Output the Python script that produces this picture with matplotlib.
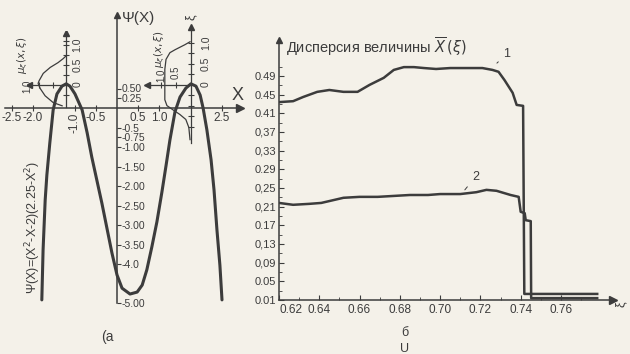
import numpy as np
import matplotlib
matplotlib.use("Agg")
import matplotlib.pyplot as plt

plt.rcParams['font.family'] = ['Liberation Sans', 'DejaVu Sans']
plt.rcParams['mathtext.fontset'] = 'dejavusans'

paper = '#f4f1e9'
ink = '#3c3c3c'

### (а) кривая Psi(X)
psi_x = [-1.79, -1.76, -1.71, -1.67, -1.60, -1.52, -1.43, -1.31, -1.21, -1.12, -1.00,
         -0.83, -0.71, -0.60, -0.48, -0.36, -0.24, -0.12, 0.00, 0.12, 0.31, 0.48,
         0.60, 0.71, 0.83, 0.95, 1.07, 1.17, 1.26, 1.38, 1.50, 1.64, 1.76, 1.88,
         1.98, 2.05, 2.14, 2.24, 2.31, 2.38, 2.45, 2.50]
psi_y = [-4.92, -3.64, -2.36, -1.72, -0.90, -0.05, 0.36, 0.56, 0.62, 0.56, 0.36,
         -0.05, -0.64, -1.26, -1.85, -2.44, -3.08, -3.72, -4.28, -4.62, -4.77, -4.72,
         -4.54, -4.15, -3.56, -2.92, -2.15, -1.46, -0.82, -0.10, 0.28, 0.51, 0.62, 0.56,
         0.33, 0.00, -0.56, -1.33, -2.10, -3.13, -4.03, -4.92]

# функции принадлежности mu(xi) у двух максимумов
mu_left = [0.0, 0.11, 0.30, 0.59, 0.85, 1.00, 1.04, 0.96, 0.78, 0.48, 0.15]
xi_left = [0.72, 0.65, 0.55, 0.43, 0.28, 0.10, 0.03, -0.10, -0.28, -0.45, -0.53]
mu_right = [0.03, 0.20, 0.53, 0.70, 0.83, 0.87, 0.87, 0.87, 0.80, 0.60, 0.37, 0.17, 0.07, 0.03]
xi_right = [1.02, 0.95, 0.83, 0.76, 0.60, 0.36, 0.0, -0.36, -0.50, -0.60, -0.71, -0.83, -1.02, -1.31]

a_xticks = [-2.5, -2.0, -1.0, -0.5, 0.5, 1.0, 2.5]
a_xlabels = ['-2.5', '-2.0', '-1.0', '-0.5', '0.5', '1.0', '2.5']
a_yticks = [0.5, 0.25, -0.5, -0.75, -1.0, -1.5, -2.0, -2.5, -3.0, -3.5, -4.0, -5.0]
a_ylabels = ['0.50', '0.25', '-0.5', '-0.75', '-1.00', '-1.50', '-2.00', '-2.50',
             '-3.00', '-3.50', '-4.0', '-5.00']

### (б) дисперсия величины X(xi)
xi1 = [0.620, 0.627, 0.632, 0.639, 0.645, 0.652, 0.659, 0.665, 0.672, 0.677, 0.682,
       0.687, 0.692, 0.698, 0.705, 0.713, 0.721, 0.726, 0.729, 0.732, 0.736, 0.738,
       0.7412, 0.7418, 0.778]
d1 = [0.434, 0.436, 0.445, 0.456, 0.460, 0.456, 0.456, 0.471, 0.486, 0.503, 0.509,
      0.509, 0.507, 0.505, 0.507, 0.507, 0.507, 0.503, 0.499, 0.481, 0.454, 0.428,
      0.426, 0.023, 0.023]
xi2 = [0.620, 0.627, 0.635, 0.641, 0.645, 0.652, 0.660, 0.669, 0.677, 0.685, 0.694,
       0.700, 0.710, 0.718, 0.723, 0.728, 0.735, 0.739, 0.740, 0.742, 0.7425, 0.745,
       0.7452, 0.778]
d2 = [0.218, 0.214, 0.216, 0.218, 0.222, 0.229, 0.231, 0.231, 0.233, 0.235, 0.235,
      0.237, 0.237, 0.241, 0.246, 0.244, 0.235, 0.231, 0.199, 0.196, 0.181, 0.179,
      0.014, 0.014]

b_xticks = [0.62, 0.64, 0.66, 0.68, 0.70, 0.72, 0.74, 0.76]
b_xlabels = ['0.62', '0.64', '0.66', '0.68', '0.70', '0.72', '0.74', '0.76']
b_yticks = [0.01, 0.05, 0.09, 0.13, 0.17, 0.21, 0.25, 0.29, 0.33, 0.37, 0.41, 0.45, 0.49]
b_ylabels = ['0.01', '0.05', '0,09', '0,13', '0.17', '0,21', '0,25', '0.29', '0,33',
             '0,37', '0.41', '0.45', '0.49']

W, H = 630, 354
fig = plt.figure(figsize=(W / 100, H / 100), dpi=100, facecolor=paper)

### ----- панель (а) -----
ax1 = fig.add_axes([0, 0, 250 / W, 1])
ax1.set_xlim(-117 / 42, 133 / 42)
ax1.set_ylim((108 - 354) / 39, 108 / 39)
ax1.patch.set_visible(False)
ax1.spines['top'].set_visible(False)
ax1.spines['left'].set_visible(False)
ax1.spines['bottom'].set_position(('data', 0))
ax1.spines['right'].set_position(('data', 0))
ax1.spines['bottom'].set_bounds(-2.67, 2.88)
ax1.spines['right'].set_bounds(-5.0, 2.3)
for s in ['bottom', 'right']:
    ax1.spines[s].set_color(ink)
    ax1.spines[s].set_linewidth(1.1)
ax1.xaxis.set_ticks_position('bottom')
ax1.yaxis.set_ticks_position('right')
ax1.set_xticks(a_xticks, a_xlabels)
ax1.set_yticks(a_yticks, a_ylabels)
ax1.tick_params(axis='x', direction='inout', length=4, pad=1, labelsize=8.5, colors=ink)
ax1.tick_params(axis='y', direction='out', length=3, pad=0.5, labelsize=7.5, colors=ink)
lab = ax1.get_xticklabels()[2]
lab.set_rotation(90)
lab.set_va('top')
ax1.plot([2.93], [0], marker='>', ms=6, color=ink, clip_on=False)
ax1.plot([0], [2.38], marker='^', ms=5, color=ink, clip_on=False)

ax1.plot(psi_x, psi_y, color=ink, lw=2.2, solid_capstyle='round', solid_joinstyle='round')

ax1.text(0.12, 2.31, 'Ψ(X)', fontsize=11, color=ink, va='center')
ax1.text(2.86, 0.33, 'X', fontsize=13, color=ink, ha='center', va='center')
ax1.text(-2.0, -3.05, 'Ψ(X)=(X$^2$-X-2)(2.25-X$^2$)', rotation=90, fontsize=9,
         color=ink, ha='center', va='center')
ax1.text(-0.24, -5.87, '(а', fontsize=10, color=ink, ha='center', va='center')


def mu_inset(x0, y0, kx, ky, mlim, xlim_):
    # kx, ky: единицы mu и xi в единицах главных осей
    b = [x0 - mlim[0] * kx, y0 + xlim_[0] * ky,
         (mlim[0] - mlim[1]) * kx, (xlim_[1] - xlim_[0]) * ky]
    ins = ax1.inset_axes(b, transform=ax1.transData)
    ins.set_xlim(mlim)
    ins.set_ylim(xlim_)
    ins.axis('off')
    return ins


# левая вставка
ins1 = mu_inset(-1.21, 0.6, 27 / 42, 40 / 39, (1.45, -0.15), (-0.8, 1.35))
ins1.plot([0, 0], [-0.55, 1.25], color=ink, lw=0.9)
ins1.plot([0, 1.35], [0, 0], color=ink, lw=0.9)
ins1.plot([0], [1.3], marker='^', ms=4, color=ink)
ins1.plot([1.38], [0], marker='<', ms=4, color=ink)
ins1.plot([0] * 6, [-0.25, 0.25, 0.5, 0.75, 1.0, 1.1], ls='none', marker='_', ms=5, color=ink, mew=0.8)
ins1.plot([0.5, 1.0], [0, 0], ls='none', marker='|', ms=4, color=ink, mew=0.8)
ins1.plot(mu_left, xi_left, color=ink, lw=0.9)
for v, t in [(0, '0'), (0.5, '0.5'), (1.0, '1.0')]:
    ins1.text(-0.42, v, t, rotation=90, fontsize=7.5, color=ink, ha='center', va='center')
ins1.text(1.6, 0.74, r'$\mu_\xi(x,\xi)$', rotation=90, fontsize=7.5, color=ink, ha='center', va='center')
ins1.text(1.45, -0.05, '1.0', rotation=90, fontsize=7, color=ink, ha='center', va='center')

# правая вставка
ins2 = mu_inset(1.76, 0.6, 30 / 42, 42 / 39, (1.6, -0.15), (-1.45, 1.5))
ins2.plot([0, 0], [-1.38, 1.35], color=ink, lw=0.9)
ins2.plot([0, 1.45], [0, 0], color=ink, lw=0.9)
ins2.plot([0], [1.38], marker='^', ms=4, color=ink)
ins2.plot([1.48], [0], marker='<', ms=4, color=ink)
ins2.plot([0] * 8, [-1.0, -0.75, -0.5, -0.25, 0.25, 0.5, 0.75, 1.0], ls='none', marker='_', ms=5,
          color=ink, mew=0.8)
ins2.plot([0.5, 1.0], [0, 0], ls='none', marker='|', ms=4, color=ink, mew=0.8)
ins2.plot(mu_right, xi_right, color=ink, lw=0.9)
for v, t in [(0, '0'), (0.5, '0.5'), (1.0, '1.0')]:
    ins2.text(-0.5, v, t, rotation=90, fontsize=7.5, color=ink, ha='center', va='center')
ins2.text(0.5, 0.3, '0.5', rotation=90, fontsize=7, color=ink, ha='center', va='center')
ins2.text(1.0, 0.22, '1.0', rotation=90, fontsize=7, color=ink, ha='center', va='center')
ins2.text(1.05, 0.85, r'$\mu_\xi(x,\xi)$', rotation=90, fontsize=7.5, color=ink, ha='center', va='center')
ins2.text(0, 1.6, 'ξ', rotation=90, fontsize=9, color=ink, ha='center', va='center')

### ----- панель (б) -----
ax2 = fig.add_axes([279 / W, (H - 300) / H, 334 / W, 260 / H])
ax2.set_xlim(0.62, 0.62 + 334 / 2014)
ax2.set_ylim(0.01, 0.01 + 260 / 466.7)
ax2.patch.set_visible(False)
ax2.spines['top'].set_visible(False)
ax2.spines['right'].set_visible(False)
for s in ['left', 'bottom']:
    ax2.spines[s].set_color(ink)
    ax2.spines[s].set_linewidth(1.1)
ax2.set_xticks(b_xticks, b_xlabels)
ax2.set_xticks(np.arange(0.63, 0.78, 0.02), minor=True)
ax2.set_yticks(b_yticks, b_ylabels)
ax2.set_yticks(np.arange(0.03, 0.52, 0.04), minor=True)
ax2.tick_params(which='both', direction='in', colors=ink, labelsize=8)
ax2.tick_params(which='major', length=3.5, pad=2)
ax2.tick_params(which='minor', length=2)
ax2.tick_params(axis='x', labelsize=8.5, pad=3)
ax2.get_xticklabels()[0].set_ha('left')
top = ax2.get_ylim()[1]
ax2.plot([0.62], [top], marker='^', ms=5, color=ink, clip_on=False)
ax2.plot([ax2.get_xlim()[1]], [0.01], marker='>', ms=6, color=ink, clip_on=False)

ax2.plot(xi1, d1, color=ink, lw=1.8, solid_joinstyle='round')
ax2.plot(xi2, d2, color=ink, lw=1.8, solid_joinstyle='round')

ax2.text(0.6235, 0.552, 'Дисперсия величины $\\overline{X}\\,(\\xi)$', fontsize=10.5,
         color=ink, va='center')
ax2.annotate('1', xy=(0.7272, 0.5135), xytext=(0.733, 0.537), fontsize=9, color=ink,
             ha='center', va='center', arrowprops=dict(arrowstyle='-', color=ink, lw=0.7))
ax2.annotate('2', xy=(0.7114, 0.2414), xytext=(0.7175, 0.2736), fontsize=9, color=ink,
             ha='center', va='center', arrowprops=dict(arrowstyle='-', color=ink, lw=0.7))
ax2.text(0.7895, 0.002, 'ξ', rotation=90, fontsize=9, color=ink, ha='center', va='center',
         clip_on=False)

fig.text(405 / W, 1 - 333 / H, 'б', fontsize=9, color=ink, ha='center', va='center')
fig.text(405 / W, 1 - 349 / H, 'U', fontsize=9, color=ink, ha='center', va='center')

fig.savefig('out.png', dpi=100, facecolor=paper)
